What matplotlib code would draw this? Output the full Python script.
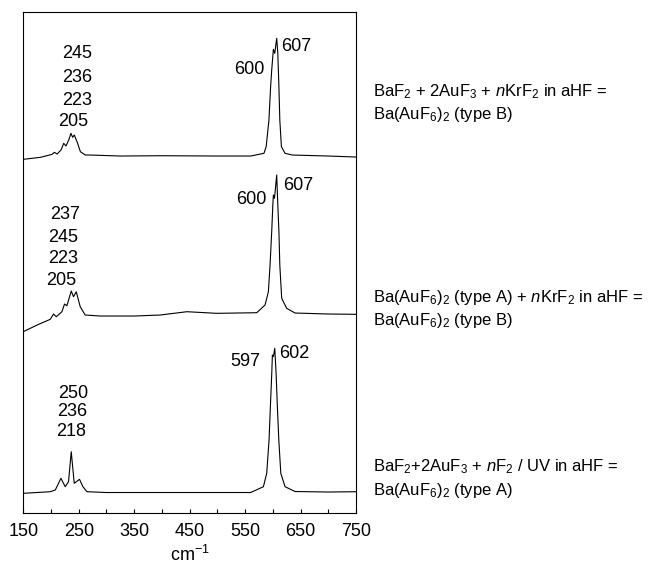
import matplotlib
matplotlib.use("Agg")
import matplotlib.pyplot as plt
import numpy as np

plt.rcParams['font.family'] = ['Liberation Sans', 'DejaVu Sans']
plt.rcParams['mathtext.fontset'] = 'custom'
plt.rcParams['mathtext.rm'] = 'Liberation Sans'
plt.rcParams['mathtext.it'] = 'Liberation Sans:italic'

# --- spectra (wavenumber, intensity above baseline) ---
top_x = [150, 181, 202, 206, 211, 218, 223, 227, 232, 236, 239, 242, 248, 253,
         262, 271, 325, 400, 500, 560, 584, 588, 593, 596, 598, 601, 603.5,
         607, 609, 611, 612.6, 615.5, 622, 635, 700, 750]
top_y = [-3.3, -1.3, 1.7, 3.7, 2, 6, 12.7, 10, 16, 22.7, 18.7, 21, 12.7, 4.3,
         1, 1, 0, 0.3, 0, 0, 2.7, 9.3, 36, 69, 86, 106.7, 102.7,
         117.7, 102.7, 69, 36, 9.3, 2.7, 1, 0, -1]

mid_x = [150, 175, 198.6, 204.6, 209.5, 219.7, 224.4, 228.7, 236.5, 240.6,
         245.5, 252.7, 261.7, 288.7, 350, 396.8, 445, 499, 571, 586, 592, 595,
         598, 600, 601, 603, 607, 609, 611, 612.6, 616, 625, 640, 700, 750]
mid_y = [-15.7, -9, -3.3, 2, -0.7, 4.3, 12, 10.3, 25, 19.3,
         24.3, 9.3, 1, 0, 0, 1, 4.3, 2.7, 3.3, 11, 24.3, 51,
         84.3, 111, 121, 117.7, 141, 111, 84.3, 51, 17.7, 7.7, 3, 2, 1.7]

bot_x = [150, 198.6, 207.7, 217.9, 225.7, 231.6, 236.5, 241.9, 251.4, 257.6,
         264.8, 300, 400, 500, 560, 583, 589, 593.2, 595.6, 598.1, 599.2, 601,
         603.5, 605.9, 608.2, 610.8, 614.4, 622.1, 640, 700, 750]
bot_y = [-0.8, 0.8, 2.5, 14.2, 5.8, 10.8, 40.8, 9.2, 13.2, 5.8,
         0.8, 0, 0, 0, 0, 5.8, 19.2, 52.5, 85.8, 119.2, 137.5, 135.8,
         144.2, 119.2, 85.8, 52.5, 19.2, 5.8, 1, 0.5, 0.8]

top_labels = ['245', '236', '223', '205', '600', '607']
mid_labels = ['237', '245', '223', '205', '600', '607']
bot_labels = ['250', '236', '218', '597', '602']

top_caption = [r'BaF$_2$ + 2AuF$_3$ + $n$KrF$_2$ in aHF =',
               r'Ba(AuF$_6$)$_2$ (type B)']
mid_caption = [r'Ba(AuF$_6$)$_2$ (type A) + $n$KrF$_2$ in aHF =',
               r'Ba(AuF$_6$)$_2$ (type B)']
bot_caption = [r'BaF$_2$+2AuF$_3$ + $n$F$_2$ / UV in aHF =',
               r'Ba(AuF$_6$)$_2$ (type A)']

xticks = [150, 250, 350, 450, 550, 650, 750]

# --- layout ---
offsets = [357, 197, 20.5]
label_pos = {
    'top': [(248, 459.5), (248, 436), (248, 412.5), (240.6, 392), (557, 444), (642, 467)],
    'mid': [(225.7, 299), (222.6, 276), (221.2, 255), (218.5, 233), (561, 314), (645.5, 328)],
    'bot': [(240.6, 120), (237.9, 101.3), (236.1, 81.3), (550.5, 152), (638, 159.3)],
}
caption_y = [(0.8298, 0.7900), (0.4683, 0.4278), (0.1695, 0.1285)]

fig = plt.figure(figsize=(6.5, 5.68), dpi=100)
ax = fig.add_axes([0.0358, 0.0968, 0.5119, 0.8815])

for xs, ys, off in zip([top_x, mid_x, bot_x], [top_y, mid_y, bot_y], offsets):
    ax.plot(xs, np.array(ys) + off, color='black', lw=0.8)

for key, labels in zip(['top', 'mid', 'bot'], [top_labels, mid_labels, bot_labels]):
    for txt, (x, y) in zip(labels, label_pos[key]):
        ax.text(x, y, txt, ha='center', va='center', fontsize=13)

for lines, (y1, y2) in zip([top_caption, mid_caption, bot_caption], caption_y):
    fig.text(0.5734, y1, lines[0], fontsize=12, va='baseline')
    fig.text(0.5734, y2, lines[1], fontsize=12, va='baseline')

ax.set_xlim(150, 750)
ax.set_ylim(0, 500.7)
ax.set_xticks(xticks)
ax.set_xticks([200, 300, 400, 500, 600, 700], minor=True)
ax.set_yticks([])
ax.tick_params(axis='x', which='both', direction='in', length=3, width=0.8,
               labelsize=13, pad=7)
for sp in ax.spines.values():
    sp.set_linewidth(0.8)
ax.set_xlabel(r'cm$^{-1}$', fontsize=13, labelpad=4)

fig.savefig('out.png', dpi=100)
